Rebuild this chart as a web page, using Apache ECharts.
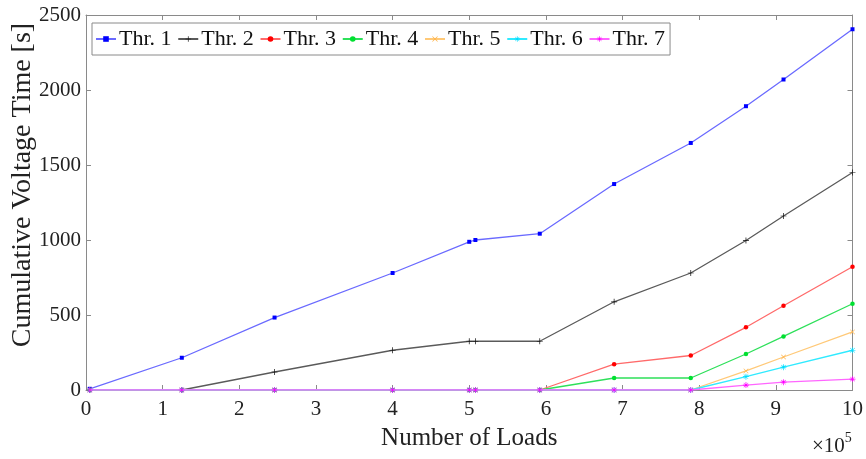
<!DOCTYPE html>
<html>
<head>
<meta charset="utf-8">
<script src="https://cdn.jsdelivr.net/npm/echarts@6/dist/echarts.min.js"></script>
<style>
  html, body { margin: 0; padding: 0; background: #fff; }
  #chart { width: 866px; height: 459px; }
</style>
</head>
<body>
<div id="chart"></div>
<script>
// Number of loads at each measurement (raw counts)
const loads = [5000, 125000, 246000, 400000, 500000, 508000, 592000, 689000, 789000, 861000, 910000, 1000000];

// Cumulative voltage time [s] per threshold
const thr1 = [8, 215, 483, 780, 988, 1000, 1042, 1373, 1647, 1892, 2070, 2405];
const thr2 = [0, 0, 120, 265, 325, 325, 325, 588, 780, 997, 1160, 1450];
const thr3 = [0, 0, 0, 0, 0, 0, 0, 172, 230, 418, 562, 822];
const thr4 = [0, 0, 0, 0, 0, 0, 0, 80, 80, 240, 357, 575];
const thr5 = [0, 0, 0, 0, 0, 0, 0, 0, 0, 127, 220, 387];
const thr6 = [0, 0, 0, 0, 0, 0, 0, 0, 0, 89, 152, 265];
const thr7 = [0, 0, 0, 0, 0, 0, 0, 0, 0, 33, 52, 73];

const seriesNames = ['Thr. 1', 'Thr. 2', 'Thr. 3', 'Thr. 4', 'Thr. 5', 'Thr. 6', 'Thr. 7'];
const seriesValues = [thr1, thr2, thr3, thr4, thr5, thr6, thr7];

const FONT = '"Liberation Serif", "DejaVu Serif", serif';
const AXIS_GRAY = '#8a8a8a';

// Marker shapes
const PLUS = 'path://M-0.6,-5H0.6V-0.6H5V0.6H0.6V5H-0.6V0.6H-5V-0.6H-0.6Z';
const CROSS = 'path://M-5,-4.2L-4.2,-5L0,-0.8L4.2,-5L5,-4.2L0.8,0L5,4.2L4.2,5L0,0.8L-4.2,5L-5,4.2L-0.8,0Z';
const STAR = 'path://M-0.6,-5H0.6V-0.6H5V0.6H0.6V5H-0.6V0.6H-5V-0.6H-0.6Z' +
             'M-4,-3.4L-3.4,-4L0,-0.6L3.4,-4L4,-3.4L0.6,0L4,3.4L3.4,4L0,0.6L-3.4,4L-4,3.4L-0.6,0Z';

const styles = [
  { line: '#6a6aff', mark: '#0000ff', symbol: 'rect',   size: 4 },
  { line: '#5a5a5a', mark: '#111111', symbol: PLUS,     size: 6 },
  { line: '#ff6a6a', mark: '#ff0000', symbol: 'circle', size: 4.5 },
  { line: '#2ee05a', mark: '#00e030', symbol: 'circle', size: 4.5 },
  { line: '#ffc978', mark: '#ffb040', symbol: CROSS,    size: 5 },
  { line: '#30eaff', mark: '#00dcff', symbol: STAR,     size: 6 },
  { line: '#ff66ff', mark: '#ff00ff', symbol: STAR,     size: 6 }
];

const series = seriesNames.map((name, i) => ({
  name: name,
  type: 'line',
  data: loads.map((x, j) => [x, seriesValues[i][j]]),
  symbol: styles[i].symbol,
  symbolSize: styles[i].size,
  showAllSymbol: true,
  lineStyle: { color: styles[i].line, width: 1.3 },
  itemStyle: { color: styles[i].mark, borderWidth: 0 },
  emphasis: { disabled: true },
  z: 2 + i,
  animation: false
}));

const chart = echarts.init(document.getElementById('chart'), null, { renderer: 'canvas' });

const xCommon = {
  type: 'value', min: 0, max: 1000000, interval: 100000,
  axisLine: { show: true, onZero: false, lineStyle: { color: AXIS_GRAY, width: 1 } },
  axisTick: { show: true, inside: true, length: 5, lineStyle: { color: AXIS_GRAY } },
  splitLine: { show: false }
};
const yCommon = {
  type: 'value', min: 0, max: 2500, interval: 500,
  axisLine: { show: true, onZero: false, lineStyle: { color: AXIS_GRAY, width: 1 } },
  axisTick: { show: true, inside: true, length: 5, lineStyle: { color: AXIS_GRAY } },
  splitLine: { show: false }
};

chart.setOption({
  animation: false,
  backgroundColor: '#ffffff',
  grid: { left: 86, right: 10, top: 15, bottom: 69, containLabel: false },
  legend: {
    data: seriesNames,
    left: 92, top: 23,
    orient: 'horizontal',
    itemWidth: 20, itemHeight: 7, itemGap: 5.7,
    padding: [5, 5, 5, 3],
    backgroundColor: '#ffffff',
    borderColor: AXIS_GRAY, borderWidth: 1, borderRadius: 0,
    selectedMode: false,
    textStyle: { fontFamily: FONT, fontSize: 22, color: '#111', padding: [0, 0, 0, -2] }
  },
  xAxis: [
    Object.assign({}, xCommon, {
      position: 'bottom',
      name: 'Number of Loads',
      nameLocation: 'middle',
      nameGap: 36,
      nameTextStyle: { fontFamily: FONT, fontSize: 25, color: '#222' },
      axisLabel: {
        show: true, margin: 9, color: '#222', fontFamily: FONT, fontSize: 21,
        formatter: v => String(Math.round(v / 100000))
      }
    }),
    Object.assign({}, xCommon, { position: 'top', axisLabel: { show: false } })
  ],
  yAxis: [
    Object.assign({}, yCommon, {
      position: 'left',
      axisLabel: {
        show: true, margin: 5, color: '#222', fontFamily: FONT, fontSize: 21,
        formatter: v => String(v)
      }
    }),
    Object.assign({}, yCommon, { position: 'right', axisLabel: { show: false } })
  ],
  title: {
    text: '{a|×10}{b|5}',
    left: 807, top: 426,
    textStyle: {
      fontWeight: 'normal',
      rich: {
        a: { fontFamily: FONT, fontSize: 21, fontWeight: 'normal', color: '#222', verticalAlign: 'bottom', lineHeight: 26 },
        b: { fontFamily: FONT, fontSize: 14, fontWeight: 'normal', color: '#222', verticalAlign: 'top', lineHeight: 26, padding: [0, 0, 10, 0] }
      }
    }
  },
  graphic: [{
    type: 'text',
    x: 23, y: 185,
    rotation: Math.PI / 2,
    style: {
      text: 'Cumulative Voltage Time [s]',
      fontFamily: FONT, fontSize: 28, fill: '#222',
      textAlign: 'center', textVerticalAlign: 'middle'
    }
  }],
  series: series
});
</script>
</body>
</html>
